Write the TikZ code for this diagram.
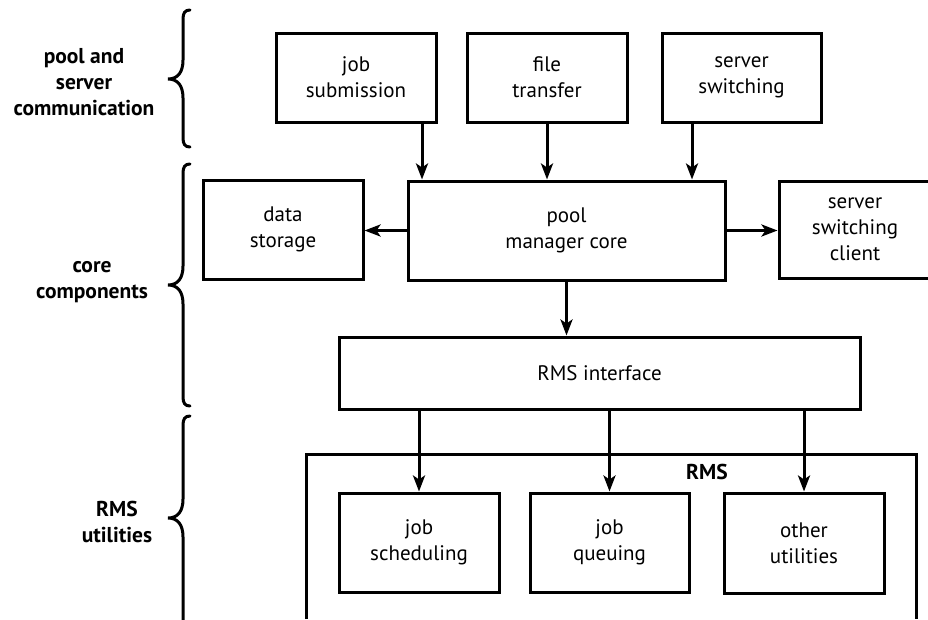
\documentclass[tikz,border=0pt]{standalone}
\usepackage{fontspec}
\setmainfont{PT Sans}
\usetikzlibrary{arrows.meta}
\begin{document}
\begin{tikzpicture}[x=1pt,y=-1pt,
  box/.style={draw, line width=3pt, rectangle, align=center, inner sep=0pt,
    font=\fontsize{21}{26}\selectfont},
  lbl/.style={align=center, inner sep=0pt, font=\fontsize{21.5}{26}\selectfont\bfseries},
  arr/.style={line width=3pt, -{Stealth[length=16pt,width=12pt,inset=4pt]}},
  brace/.style={line width=3pt, line cap=round}]
\useasboundingbox (0,0) rectangle (928,619);

% communication layer
\node[box, minimum width=160pt, minimum height=89pt] (sub) at (356,77.5) {job\\submission};
\node[box, minimum width=160pt, minimum height=89pt] (ftr) at (547,77.5) {file\\transfer};
\node[box, minimum width=159pt, minimum height=89pt] (ssw) at (741.5,77.5) {server\\switching};

% core components
\node[box, minimum width=160pt, minimum height=99pt] (store) at (283,229.5) {data\\storage};
\node[box, minimum width=317pt, minimum height=99pt] (core) at (566.5,230.5) {pool\\manager core};
\node[box, minimum width=152pt, minimum height=97pt] (client) at (855,229.5) {server\\switching\\client};
\node[box, minimum width=521pt, minimum height=72pt] (rmsi) at (599.5,373) {RMS interface};

% RMS container (open at the bottom)
\draw[line width=3pt] (306,619) -- (306,454) -- (916,454) -- (916,619);
\node[lbl] (rms) at (707,472) {RMS};

\node[box, minimum width=160pt, minimum height=99pt] (sched) at (419,542.5) {job\\scheduling};
\node[box, minimum width=159pt, minimum height=99pt] (queue) at (609.5,542.5) {job\\queuing};
\node[box, minimum width=160pt, minimum height=100pt] (other) at (804,543) {other\\utilities};

% connectors
\draw[arr] ([xshift=66pt]sub.south) -- ([xshift=66pt]sub.south |- core.north);
\draw[arr] (ftr.south) -- (ftr.south |- core.north);
\draw[arr] ([xshift=-49.5pt]ssw.south) -- ([xshift=-49.5pt]ssw.south |- core.north);
\draw[arr] (core.west) -- (core.west -| store.east);
\draw[arr] (core.east) -- (core.east -| client.west);
\draw[arr] (core.south) -- (core.south |- rmsi.north);
\draw[arr] (sched.north |- rmsi.south) -- (sched.north);
\draw[arr] (queue.north |- rmsi.south) -- (queue.north);
\draw[arr] (other.north |- rmsi.south) -- (other.north);

% layer labels and braces
\node[lbl] (lcomm) at (84,82) {pool and\\server\\communication};
\node[lbl] (lcore) at (92,282) {core\\components};
\node[lbl] (lrms) at (117,522) {RMS\\utilities};

\draw[brace] (190,10) .. controls (185,10) and (183,13) .. (183,19)
  -- (183,60) .. controls (183,72) and (178,79) .. (168,79)
  .. controls (178,79) and (183,86) .. (183,98)
  -- (183,138) .. controls (183,144) and (185,147) .. (190,147);
\draw[brace] (190,164) .. controls (185,164) and (183,167) .. (183,173)
  -- (183,266) .. controls (183,278) and (178,285) .. (168,285)
  .. controls (178,285) and (183,292) .. (183,304)
  -- (183,397) .. controls (183,403) and (185,406) .. (190,406);
\draw[brace] (190,416) .. controls (185,416) and (183,419) .. (183,425)
  -- (183,499) .. controls (183,511) and (178,518) .. (168,518)
  .. controls (178,518) and (183,525) .. (183,537)
  -- (183,622);
\end{tikzpicture}
\end{document}
